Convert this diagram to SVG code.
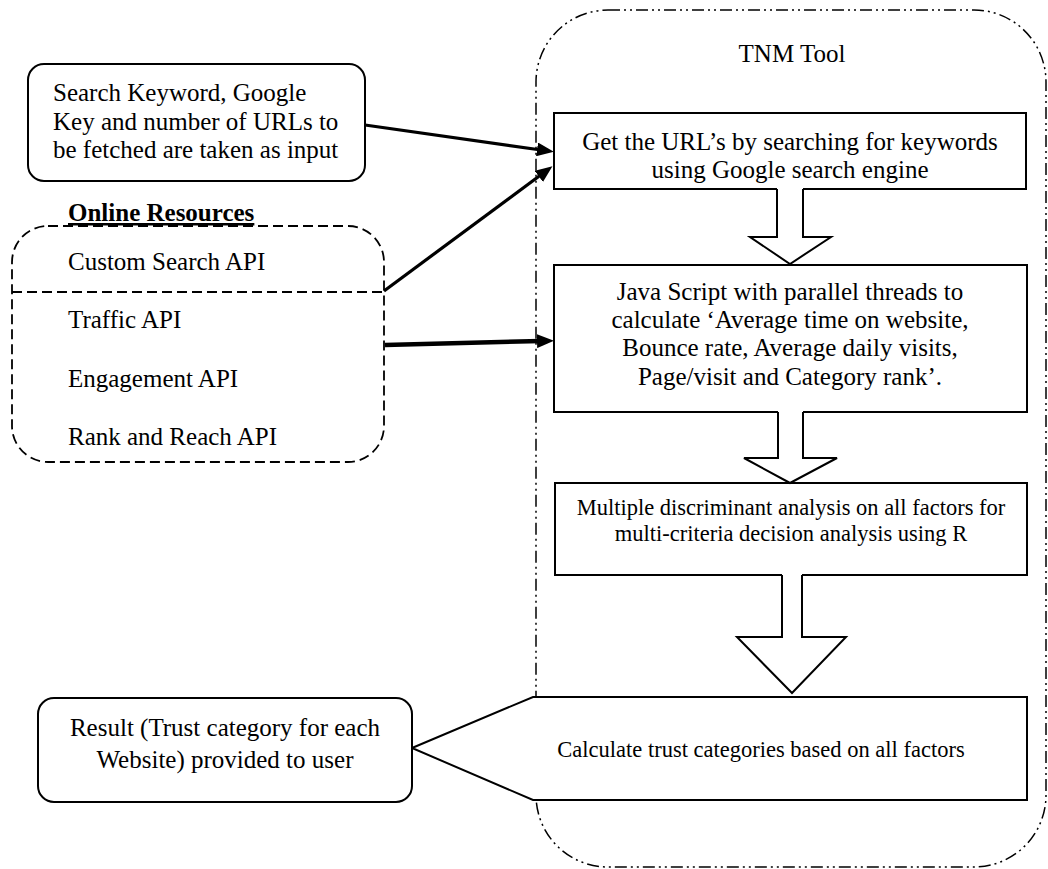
<svg xmlns="http://www.w3.org/2000/svg" width="1048" height="869" viewBox="0 0 1048 869">
<style>
  .t { font-family: "Liberation Serif", "Times New Roman", serif; font-size: 25px; fill: #000; }
  .s { font-family: "Liberation Serif", "Times New Roman", serif; font-size: 22.5px; fill: #000; }
  .c { text-anchor: middle; }
  .box { fill: #fff; stroke: #000; stroke-width: 2; }
  .rbox { fill: #fff; stroke: #000; stroke-width: 2; }
  .ba-fill { fill: #fff; stroke: none; }
  .ba-line { fill: none; stroke: #000; stroke-width: 2; stroke-linejoin: miter; }
  .conn { stroke: #000; fill: none; }
</style>
<defs>
  <marker id="ah" markerUnits="userSpaceOnUse" markerWidth="18" markerHeight="14" refX="4" refY="7" orient="auto">
    <path d="M0,0 L17,7 L0,14 z" fill="#000"/>
  </marker>
</defs>
<rect width="1048" height="869" fill="#fff"/>

<g id="tnm-tool">
  <rect x="536" y="10" width="510" height="857" rx="72" ry="72" fill="none" stroke="#000" stroke-width="1.5" stroke-dasharray="12 4 2 4 2 4"/>
  <text class="t c" x="792" y="62">TNM Tool</text>
</g>

<g id="input">
  <rect class="rbox" x="28" y="64" width="337" height="117" rx="16" ry="16"/>
  <text class="t" x="53" y="101">Search Keyword, Google</text>
  <text class="t" x="53" y="130">Key and number of URLs to</text>
  <text class="t" x="53" y="158">be fetched are taken as input</text>
</g>

<g id="online-resources">
  <text class="t" x="68" y="221" font-weight="bold" text-decoration="underline">Online Resources</text>
  <rect x="12" y="226" width="372" height="236" rx="36" ry="36" fill="none" stroke="#000" stroke-width="1.8" stroke-dasharray="10 5"/>
  <line x1="12" y1="292" x2="384" y2="292" stroke="#000" stroke-width="1.8" stroke-dasharray="10 5"/>
  <text class="t" x="68" y="270">Custom Search API</text>
  <text class="t" x="68" y="328">Traffic API</text>
  <text class="t" x="68" y="387">Engagement API</text>
  <text class="t" x="68" y="445">Rank and Reach API</text>
</g>

<g id="get-urls">
  <rect class="box" x="554" y="113" width="472" height="76"/>
  <text class="t c" x="790" y="150">Get the URL’s by searching for keywords</text>
  <text class="t c" x="790" y="178">using Google search engine</text>
</g>

<g id="java-script">
  <rect class="box" x="554" y="265" width="473" height="147"/>
  <text class="t c" x="790" y="300">Java Script with parallel threads to</text>
  <text class="t c" x="790" y="328">calculate ‘Average time on website,</text>
  <text class="t c" x="790" y="356">Bounce rate, Average daily visits,</text>
  <text class="t c" x="790" y="385">Page/visit and Category rank’.</text>
</g>

<g id="mda">
  <rect class="box" x="555" y="483" width="472" height="92"/>
  <text class="s c" x="791" y="515">Multiple discriminant analysis on all factors for</text>
  <text class="s c" x="791" y="541">multi-criteria decision analysis using R</text>
</g>

<g id="calculate">
  <polygon class="box" points="412,748 533,697 1027,697 1027,800 533,800"/>
  <text class="s c" x="761" y="757">Calculate trust categories based on all factors</text>
</g>

<g id="result">
  <rect class="rbox" x="38" y="698" width="374" height="104" rx="16" ry="16"/>
  <text class="t c" x="225" y="736">Result (Trust category for each</text>
  <text class="t c" x="225" y="768">Website) provided to user</text>
</g>

<g id="connectors">
  <g id="block-arrow-1">
    <polygon class="ba-fill" points="777,188 777,237 750,237 790,264 831,237 803,237 803,188"/>
    <polyline class="ba-line" points="777,189 777,237 750,237 790,264 831,237 803,237 803,189"/>
  </g>
  <g id="block-arrow-2">
    <polygon class="ba-fill" points="778,411 778,458 744,458 790,483 837,458 803,458 803,411"/>
    <polyline class="ba-line" points="778,412 778,458 744,458 790,483 837,458 803,458 803,412"/>
  </g>
  <g id="block-arrow-3">
    <polygon class="ba-fill" points="782,574 782,637 737,637 792,693 846,637 802,637 802,574"/>
    <polyline class="ba-line" points="782,575 782,637 737,637 792,693 846,637 802,637 802,575"/>
  </g>
  <line class="conn" x1="365" y1="125" x2="541" y2="150" stroke-width="3.2" marker-end="url(#ah)"/>
  <line class="conn" x1="384" y1="291" x2="542" y2="174" stroke-width="3.2" marker-end="url(#ah)"/>
  <line class="conn" x1="385" y1="345" x2="541" y2="341" stroke-width="4.5" marker-end="url(#ah)"/>
</g>
</svg>
